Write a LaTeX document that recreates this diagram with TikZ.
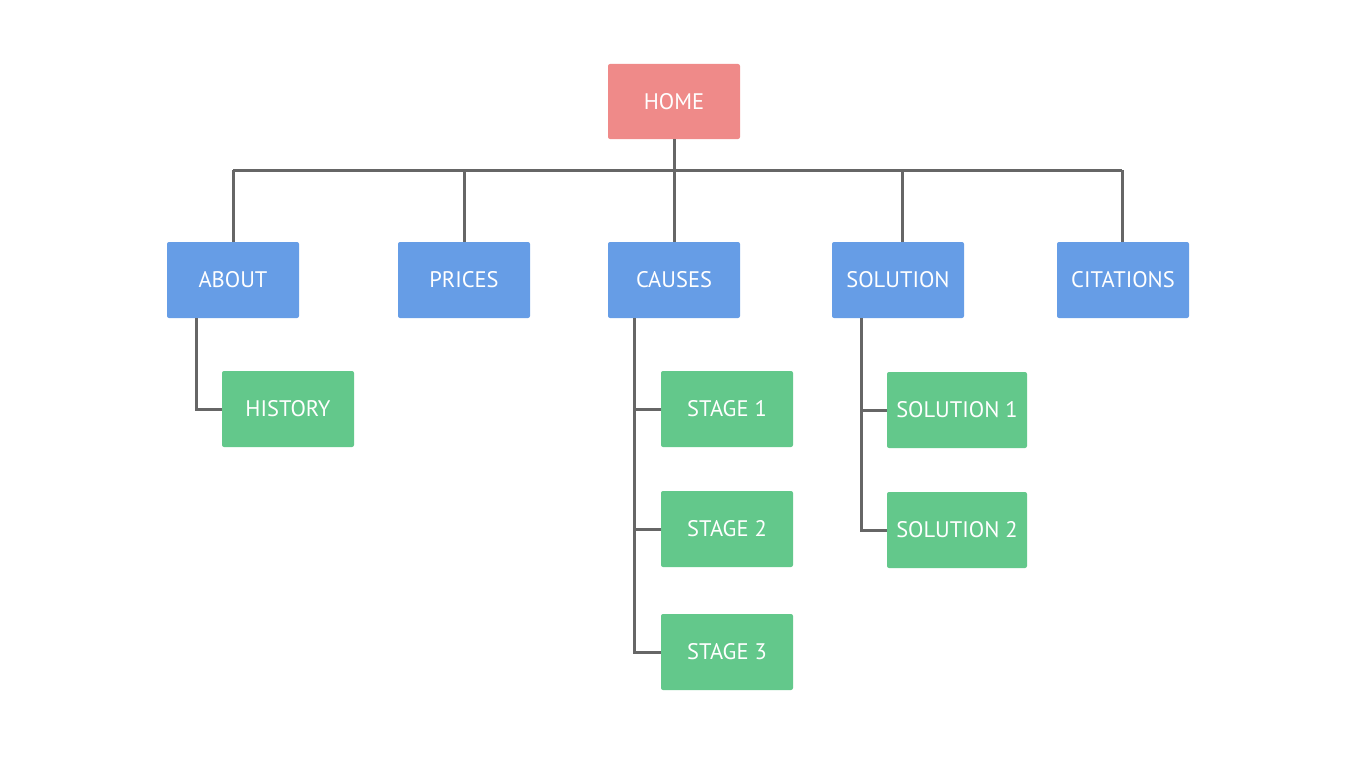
\documentclass[tikz,border=0pt]{standalone}
\usepackage{fontspec}
\setmainfont{PT Sans}
\definecolor{homec}{HTML}{EF8A89}
\definecolor{bluec}{HTML}{669DE6}
\definecolor{greenc}{HTML}{63C88B}
\definecolor{linec}{HTML}{666666}
\begin{document}
\begin{tikzpicture}[x=1pt,y=-1pt,
  box/.style={rounded corners=2pt,minimum width=132pt,minimum height=76pt,inner sep=0pt,
    text=white,font=\fontsize{22.5}{26}\selectfont},
  homebox/.style={box,fill=homec},
  bluebox/.style={box,fill=bluec},
  greenbox/.style={box,fill=greenc},
  conn/.style={draw=linec,line width=3pt}]
\useasboundingbox (0,0) rectangle (1366,768);
\node[homebox,minimum height=75pt] (home) at (674,101.5) {HOME};
\node[bluebox] (about) at (233,280) {ABOUT};
\node[bluebox] (prices) at (464,280) {PRICES};
\node[bluebox] (causes) at (674,280) {CAUSES};
\node[bluebox] (solution) at (898,280) {SOLUTION};
\node[bluebox] (citations) at (1123,280) {CITATIONS};
\node[greenbox] (history) at (288,409) {HISTORY};
\node[greenbox] (s1) at (727,409) {STAGE 1};
\node[greenbox] (s2) at (727,529) {STAGE 2};
\node[greenbox] (s3) at (727,652) {STAGE 3};
\node[greenbox,minimum width=140pt] (sol1) at (957,410) {SOLUTION 1};
\node[greenbox,minimum width=140pt] (sol2) at (957,530) {SOLUTION 2};
\coordinate (busL) at (233,170);
\coordinate (busR) at (1122,170);
\coordinate (aboutT) at ([xshift=-37pt]about.south);
\coordinate (causesT) at ([xshift=-40pt]causes.south);
\coordinate (solT) at ([xshift=-37pt]solution.south);
\coordinate (solN) at ([xshift=4pt]solution.north);
\coordinate (citN) at ([xshift=-1pt]citations.north);
\draw[conn] (busL) -- (busR);
\draw[conn] (home.south) -- (home.south |- busL);
\draw[conn] (about.north) -- (about.north |- busL);
\draw[conn] (prices.north) -- (prices.north |- busL);
\draw[conn] (causes.north) -- (causes.north |- busL);
\draw[conn] (solN) -- (solN |- busL);
\draw[conn] (citN) -- (citN |- busL);
\draw[conn] (aboutT) |- (history.west);
\draw[conn] (causesT) |- (s3.west);
\draw[conn] (s1.west) -- (s1.west -| causesT);
\draw[conn] (s2.west) -- (s2.west -| causesT);
\draw[conn] (solT) |- (sol2.west);
\draw[conn] (sol1.west) -- (sol1.west -| solT);
\end{tikzpicture}
\end{document}
